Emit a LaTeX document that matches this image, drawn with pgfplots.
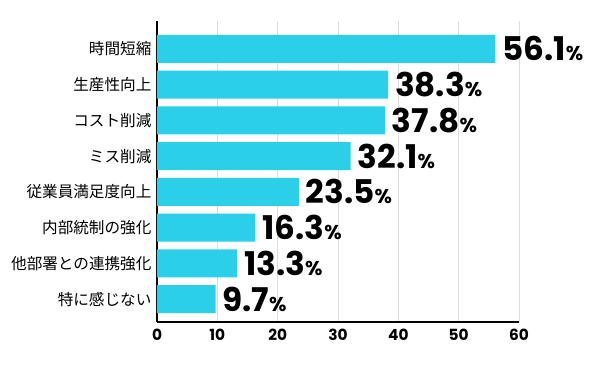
\documentclass[border=0pt]{standalone}
\usepackage{fontspec}
\usepackage{pgfplots}
\pgfplotsset{compat=1.18}
\setmainfont{Poppins}
\newfontfamily\jp{Noto Sans CJK JP}
\definecolor{barc}{RGB}{43,208,232}
\definecolor{gridc}{RGB}{221,221,221}
\begin{document}
\begin{tikzpicture}
\begin{axis}[
  at={(117.75pt,32.25pt)}, anchor=south west,
  scale only axis, width=271.5pt, height=225.75pt,
  xbar, bar width=0.78,
  xmin=0, xmax=60, xtick={0,10,...,60},
  ymin=-0.64, ymax=7.78, ytick={0,...,7},
  yticklabels={特に感じない,他部署との連携強化,内部統制の強化,従業員満足度向上,ミス削減,コスト削減,生産性向上,時間短縮},
  axis lines*=left,
  axis line style={black, line width=1.5pt, -},
  major tick length=0pt,
  xmajorgrids, grid style={gridc, line width=0.75pt},
  /pgf/number format/assume math mode=true,
  xticklabel style={font=\bfseries\fontsize{11.5}{13}\selectfont, yshift=-2pt},
  yticklabel style={font=\jp\fontsize{11.7}{13}\selectfont, inner sep=0pt, xshift=-4pt},
  point meta=explicit symbolic,
  nodes near coords={{\bfseries\fontsize{24.5}{25}\selectfont\pgfplotspointmeta}{\bfseries\fontsize{15}{15}\selectfont\%}},
  nodes near coords style={anchor=west, inner sep=0pt, xshift=5pt, text=black},
]
\addplot[fill=barc, draw=none] coordinates {
 (9.7,0) [9.7]
 (13.3,1) [13.3]
 (16.3,2) [16.3]
 (23.5,3) [23.5]
 (32.1,4) [32.1]
 (37.8,5) [37.8]
 (38.3,6) [38.3]
 (56.1,7) [56.1]
};
\end{axis}
\pgfresetboundingbox
\useasboundingbox (0,0) rectangle (450pt,273.75pt);
\end{tikzpicture}
\end{document}
